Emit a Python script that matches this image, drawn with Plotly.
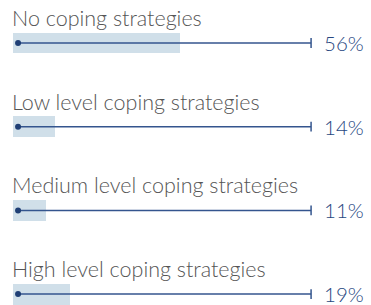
import plotly.graph_objects as go

categories = ["No coping strategies", "Low level coping strategies",
              "Medium level coping strategies", "High level coping strategies"]
values = [56, 14, 11, 19]
labels = ["56%", "14%", "11%", "19%"]

BAR = "#d0dfe9"
LINE = "#34558e"
DOT = "#1f3f75"
TXT = "#555555"
PCT = "#27477f"

rows = list(range(len(categories)))
fig = go.Figure()
fig.add_trace(go.Bar(x=values, y=rows, orientation="h", base=0,
                     width=0.25, marker=dict(color=BAR, line=dict(width=0)),
                     hoverinfo="skip", showlegend=False))
for i in rows:
    fig.add_trace(go.Scatter(x=[1.7, 100], y=[i, i], mode="lines",
                             line=dict(color=LINE, width=1.5),
                             hoverinfo="skip", showlegend=False))
    fig.add_trace(go.Scatter(x=[100], y=[i], mode="markers",
                             marker=dict(symbol="line-ns", size=7,
                                         line=dict(color=LINE, width=1.5)),
                             hoverinfo="skip", showlegend=False))
fig.add_trace(go.Scatter(x=[1.7] * len(rows), y=rows, mode="markers",
                         marker=dict(color=DOT, size=6),
                         hoverinfo="skip", showlegend=False))

for i, (c, l) in enumerate(zip(categories, labels)):
    fig.add_annotation(x=0, y=i, text=c, xanchor="left", yanchor="bottom",
                       xshift=-2, yshift=11, showarrow=False, borderpad=0,
                       font=dict(family="Lato", size=21.5, color=TXT, weight=300))
    fig.add_annotation(x=100, y=i, text=l, xanchor="left", yanchor="middle",
                       xshift=11, showarrow=False,
                       font=dict(family="Lato", size=20.5, color=PCT, weight=300))

fig.update_layout(
    width=371, height=305, margin=dict(l=0, r=0, t=0, b=0),
    paper_bgcolor="white", plot_bgcolor="white",
    xaxis=dict(range=[-4.36, 120.1], visible=False, fixedrange=True),
    yaxis=dict(range=[3.13, -0.514], visible=False, fixedrange=True),
    bargap=0,
)
fig.write_html("out.html", config={"displayModeBar": False},
               post_script="document.body.style.margin='0';")
